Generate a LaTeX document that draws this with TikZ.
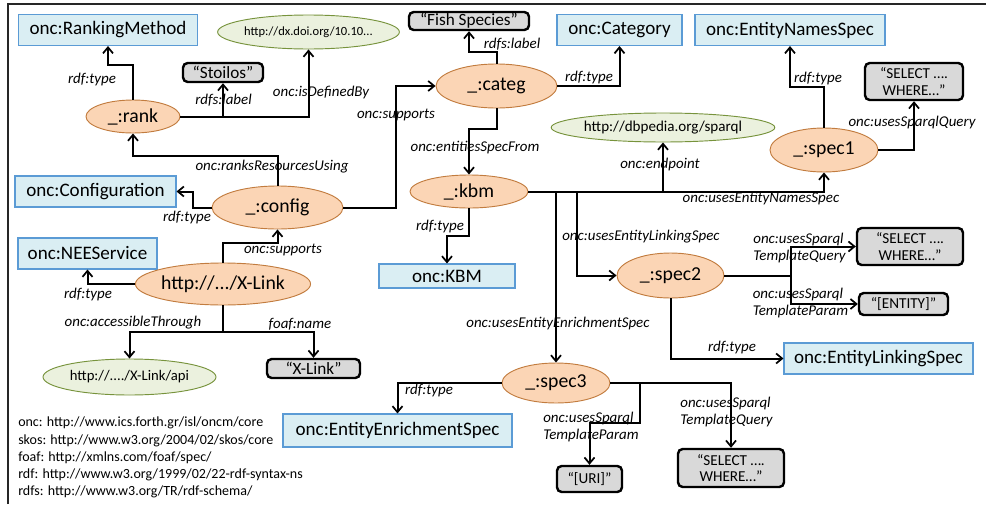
\documentclass[tikz,border=0pt]{standalone}
\usepackage{fontspec}
\setmainfont{Carlito}
\usetikzlibrary{arrows.meta,shapes.geometric}

\definecolor{clsfill}{HTML}{DAEEF3}
\definecolor{clsdraw}{HTML}{5B9BD5}
\definecolor{resfill}{HTML}{FBD5B5}
\definecolor{resdraw}{HTML}{C27C3F}
\definecolor{urifill}{HTML}{EBF1DE}
\definecolor{uridraw}{HTML}{77933C}
\definecolor{litfill}{HTML}{D9D9D9}

\tikzset{
  sz/.style 2 args={minimum width=#1*0.75pt, minimum height=#2*0.75pt},
  cls/.style={rectangle, draw=clsdraw, fill=clsfill, line width=0.8pt, inner sep=0pt,
    font=\fontsize{14.3}{16}\selectfont},
  res/.style={ellipse, draw=resdraw, fill=resfill, line width=0.7pt, inner sep=0pt,
    font=\fontsize{14.8}{16}\selectfont},
  uri/.style={ellipse, draw=uridraw, fill=urifill, line width=0.7pt, inner sep=0pt},
  lit/.style={rectangle, rounded corners=3.5pt, draw=black, fill=litfill, line width=1.8pt,
    inner sep=0pt, align=center},
  lbl/.style={inner sep=0pt, font=\itshape\fontsize{11.2}{12.75}\selectfont, align=left},
  edge/.style={line width=1.5pt, -{Straight Barb[length=4.5pt,width=7.5pt,line width=1.3pt]}},
  wire/.style={line width=1.5pt},
}

\begin{document}
\begin{tikzpicture}[x=0.75pt, y=-0.75pt]
\useasboundingbox (0,0) rectangle (986,504);
\draw[line width=0.8pt, black!85] (8,504) -- (8,4) -- (986,4);

% class boxes
\node[cls, sz={179}{31}] (rankm) at (108,30) {onc:RankingMethod};
\node[cls, sz={125}{31}] (category) at (619.5,30) {onc:Category};
\node[cls, sz={190}{31}] (ens) at (790,30) {onc:EntityNamesSpec};
\node[cls, sz={161}{31}] (configc) at (95.5,191.5) {onc:Configuration};
\node[cls, sz={139}{31}] (nee) at (87.5,253.5) {onc:NEEService};
\node[cls, sz={136}{24}] (kbmc) at (447,276) {onc:KBM};
\node[cls, sz={189}{31}] (els) at (878.5,358.5) {onc:EntityLinkingSpec};
\node[cls, sz={229}{33}] (ees) at (397.5,430.5) {onc:EntityEnrichmentSpec};

% resources
\node[res, sz={94}{33}] (rank) at (133,116.5) {\_:rank};
\node[res, sz={121}{44}] (categ) at (496.5,86) {\_:categ};
\node[res, sz={108}{44}] (spec1) at (824,150) {\_:spec1};
\node[res, sz={131}{43}] (config) at (277.5,207.5) {\_:config};
\node[res, sz={118}{33}] (kbm) at (469,191.5) {\_:kbm};
\node[res, sz={138}{42}] (xlink) at (223,284) {http://.../X-Link};
\node[res, sz={107}{45}] (spec2) at (670.5,275.5) {\_:spec2};
\node[res, sz={108}{40}] (spec3) at (556,383) {\_:spec3};

% URIs
\node[uri, sz={149}{34}, font=\fontsize{9.4}{11}\selectfont] (doi) at (308.5,32) {http://dx.doi.org/10.10...};
\node[uri, sz={176}{29}, font=\fontsize{11.3}{13}\selectfont] (dbp) at (663,127.5) {http://dbpedia.org/sparql};
\node[uri, sz={173}{36}, font=\fontsize{11}{12}\selectfont] (api) at (129.5,377) {http://..../X-Link/api};

% literals
\node[lit, sz={80}{19}, font=\fontsize{12.9}{14}\selectfont] (stoilos) at (223,72.5) {“Stoilos”};
\node[lit, sz={120}{18}, font=\fontsize{12.9}{14}\selectfont] (fish) at (469,21) {“Fish Species”};
\node[lit, sz={98}{37}, font=\fontsize{11.4}{12.2}\selectfont] (sel1) at (914,81.5) {“SELECT ….\\ WHERE…”};
\node[lit, sz={106}{37}, font=\fontsize{11.4}{12.2}\selectfont] (sel2) at (910,246.5) {“SELECT ….\\ WHERE…”};
\node[lit, sz={89}{22}, font=\fontsize{11.4}{12.2}\selectfont] (ent) at (903.5,304) {“[ENTITY]”};
\node[lit, sz={93}{19}, font=\fontsize{12.9}{14}\selectfont] (xname) at (313.5,368.5) {“X-Link”};
\node[lit, sz={65}{26}, font=\fontsize{11.4}{12.2}\selectfont] (uri) at (589.5,479) {“[URI]”};
\node[lit, sz={106}{38}, font=\fontsize{11.4}{12.2}\selectfont] (sel3) at (731,468) {“SELECT ….\\ WHERE…”};

% connectors
\draw[edge] (rank.north) -- ++(0,-35) -| (rankm.south);
\draw[edge] (rank.east) -| (doi.south);
\draw[edge] (stoilos.south |- rank.east) -- (stoilos.south);
\draw[edge] (config.north) -- ++(0,-30) -| (rank.south);
\draw[edge] (config.west) -- ++(-19,0) |- (configc.east);
\draw[edge] (config.east) -- ++(53,0) |- (categ.west);
\draw[edge] (categ.north) -- ++(0,-12) -| (fish.south);
\draw[edge] (categ.east) -| (category.south);
\draw[edge] (categ.south) -- ++(0,21) -| (kbm.north);
\draw[edge] (kbm.south) -- ++(0,28) -| (kbmc.north);
\draw[edge] (kbm.east) -| (spec1.south);
\draw[edge] (dbp.south |- kbm.east) -- (dbp.south);
\coordinate (j2) at (577,191.5);
\draw[edge] (j2) |- (spec2.west);
\draw[edge] (spec3.north |- kbm.east) -- (spec3.north);
\draw[edge] (spec1.north) -- ++(0,-41) -| (ens.south);
\draw[edge] (spec1.east) -| (sel1.south);
\coordinate (j4) at (791,275.5);
\draw[wire] (spec2.east) -- (j4);
\draw[edge] (j4) |- (sel2.west);
\draw[edge] (j4) |- (ent.west);
\draw[edge] (spec2.south) |- (els.west);
\draw[edge] (spec3.west) -| (ees.north);
\draw[edge] (spec3.east) -| (sel3.north);
\coordinate (j5) at (640,383);
\draw[edge] (j5) -- ++(0,40) -| (uri.north);
\draw[edge] (xlink.north) -- ++(0,-20) -| (config.south);
\draw[edge] (xlink.west) -| (nee.south);
\draw[wire] (xlink.south) -- ++(0,27) coordinate (j6);
\draw[edge] (j6) -| (api.north);
\draw[edge] (j6) -| (xname.north);

% edge labels
\node[lbl] (l1) at (92,80) {rdf:type};
\node[lbl] (l2) at (223.5,100) {rdfs:label};
\node[lbl] (l3) at (321,93) {onc:isDefinedBy};
\node[lbl] (l4) at (272,167) {onc:ranksResourcesUsing};
\node[lbl] (l5) at (187,218) {rdf:type};
\node[lbl] (l6) at (396,115) {onc:supports};
\node[lbl] (l7) at (512,44) {rdfs:label};
\node[lbl] (l8) at (589,78) {rdf:type};
\node[lbl] (l9) at (475,148) {onc:entitiesSpecFrom};
\node[lbl] (l10) at (440,227) {rdf:type};
\node[lbl] (l11) at (660,165) {onc:endpoint};
\node[lbl] (l12) at (761,199) {onc:usesEntityNamesSpec};
\node[lbl] (l13) at (641,237) {onc:usesEntityLinkingSpec};
\node[lbl] (l14) at (558,324) {onc:usesEntityEnrichmentSpec};
\node[lbl] (l15) at (818,79) {rdf:type};
\node[lbl] (l16) at (912,123) {onc:usesSparqlQuery};
\node[lbl] (l17) at (799.5,248) {onc:usesSparql\\TemplateQuery};
\node[lbl] (l18) at (800.5,303) {onc:usesSparql\\TemplateParam};
\node[lbl] (l19) at (732,348) {rdf:type};
\node[lbl] (l20) at (429,391) {rdf:type};
\node[lbl] (l21) at (591,427.5) {onc:usesSparql\\TemplateParam};
\node[lbl] (l22) at (726.5,412) {onc:usesSparql\\TemplateQuery};
\node[lbl] (l23) at (283,250) {onc:supports};
\node[lbl] (l24) at (88,295) {rdf:type};
\node[lbl] (l25) at (133,323) {onc:accessibleThrough};
\node[lbl] (l26) at (300,324) {foaf:name};

% namespace prefixes
\node[anchor=north west, inner sep=0pt, align=left, font=\fontsize{10.5}{12.9}\selectfont] (ns) at (18,417)
  {onc: http://www.ics.forth.gr/isl/oncm/core\\
   skos: http://www.w3.org/2004/02/skos/core\\
   foaf: http://xmlns.com/foaf/spec/\\
   rdf: http://www.w3.org/1999/02/22-rdf-syntax-ns\\
   rdfs: http://www.w3.org/TR/rdf-schema/};
\end{tikzpicture}
\end{document}
